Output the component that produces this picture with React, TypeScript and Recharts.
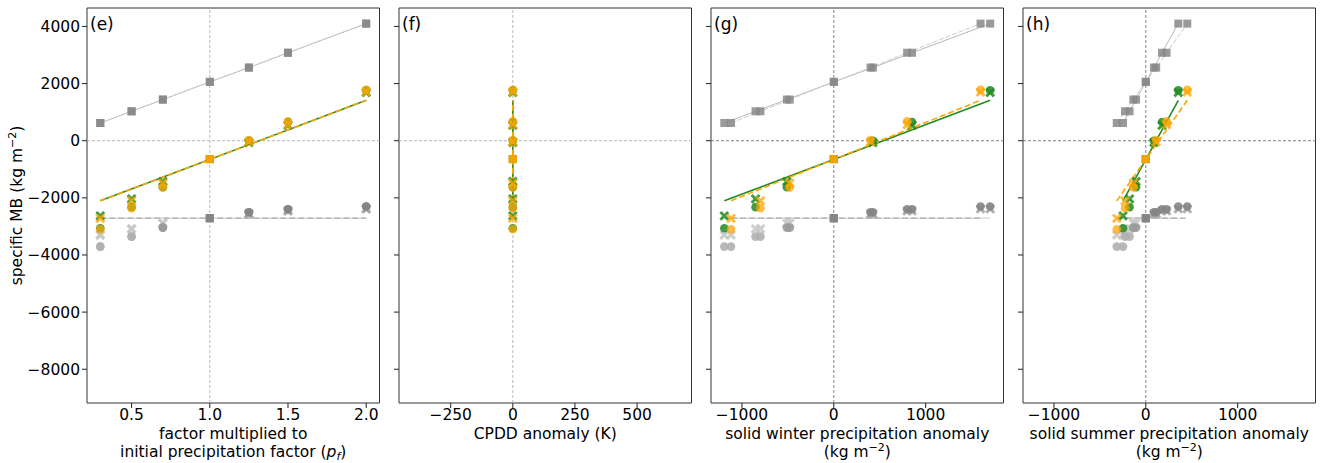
import React from 'react';
import { ComposedChart, Scatter, XAxis, YAxis, ReferenceLine, ReferenceArea } from 'recharts';

const FONT = '"DejaVu Sans", "Liberation Sans", sans-serif';

// ---- categories / x positions ----
const pfFactors = [0.3, 0.5, 0.7, 1.0, 1.25, 1.5, 2.0];
const cpddAnomaly = [0, 0, 0, 0, 0, 0, 0];
const winterAnomGreen = [-1192, -852, -511, 0, 426, 852, 1703];
const winterAnomOrange = [-1119, -799, -479, 0, 400, 799, 1598];
const summerAnomGreen = [-248, -177, -106, 0, 89, 177, 354];
const summerAnomOrange = [-316, -226, -136, 0, 113, 226, 452];

// ---- series values (specific MB, kg m-2) ----
const accumulation = [620, 1030, 1440, 2060, 2560, 3080, 4100];
const mbGreenCircle = [-3065, -2326, -1625, -643, 0, 656, 1765];
const mbOrangeCircle = [-3100, -2361, -1638, -643, 25, 677, 1780];
const mbGreenCross = [-2632, -2035, -1428, -643, -60, 540, 1690];
const mbOrangeCross = [-2720, -2105, -1487, -643, -40, 560, 1700];
const ablationCircle = [-3707, -3357, -3042, -2713, -2502, -2397, -2304];
const ablationCross = [-3298, -3088, -2887, -2713, -2561, -2456, -2386];
const ablationFit = [-2713, -2713];
const mbFit = [-2105, 1414];

// ---- ticks ----
const yTicks = [-8000, -6000, -4000, -2000, 0, 2000, 4000];
const eTicks = [0.5, 1.0, 1.5, 2.0];
const fTicks = [-250, 0, 250, 500];
const ghTicks = [-1000, 0, 1000];

const Y_DOMAIN: [number, number] = [-9182, 4646];
const REF_INDEX = 3;
const GREEN = '#228B22';
const ORANGE = '#FFA500';

type Pt = { x: number; y: number; i: number };
const zip = (xs: number[], ys: number[]): Pt[] => xs.map((x, i) => ({ x, y: ys[i], i }));
const ends = (xs: number[], ys: number[]): Pt[] => [
  { x: xs[0], y: ys[0], i: -1 },
  { x: xs[xs.length - 1], y: ys[ys.length - 1], i: -1 },
];

const minus = (v: number) => (v < 0 ? '\u2212' + Math.abs(v) : String(v));

const marker = (kind: string, color: string | ((i: number) => string), alpha: number) => (p: any) => {
  const { cx, cy, payload } = p;
  if (kind === 'none' || cx == null || cy == null || !isFinite(cx) || !isFinite(cy)) return <g />;
  const c = typeof color === 'function' ? color(payload.i) : color;
  const k = payload.i === REF_INDEX ? 'square' : kind;
  if (k === 'square')
    return <rect x={cx - 4} y={cy - 4} width={8} height={8} fill={c} fillOpacity={alpha} />;
  if (k === 'circle') return <circle cx={cx} cy={cy} r={4.3} fill={c} fillOpacity={alpha} />;
  const s = 3.9;
  return (
    <g opacity={alpha}>
      <line x1={cx - s} y1={cy - s} x2={cx + s} y2={cy + s} stroke={c} strokeWidth={3} />
      <line x1={cx - s} y1={cy + s} x2={cx + s} y2={cy - s} stroke={c} strokeWidth={3} />
    </g>
  );
};
const noMarker = marker('none', '#000', 1);

const ablCircleColor = (i: number) => (i < 3 ? (i === 2 ? '#9a9a9a' : '#b0b0b0') : '#858585');
const ablCrossColor = (i: number) => (i < 3 ? '#c8c8c8' : '#a8a8a8');

const tickStyle = { fontFamily: FONT, fontSize: 15.5, fill: '#000' };
const PLOT_W = 292.5;

const Sup = ({ children }: { children: React.ReactNode }) => (
  <>
    <tspan fontSize={11} dy={-6}>{children}</tspan>
    <tspan dy={6}>)</tspan>
  </>
);

type Cfg = {
  plotLeft: number;
  yW: number;
  xDomain: [number, number];
  xTicks: number[];
  fmt: (v: number) => string;
  greenX: number[];
  orangeX: number[];
  showGray: boolean;
  refX: number;
  refColor: string;
  letter: string;
  xlabel: React.ReactNode[];
  first: boolean;
};

function Panel({ cfg }: { cfg: Cfg }) {
  const { plotLeft, yW, xDomain, xTicks, fmt, greenX, orangeX, showGray, refX, refColor, letter, xlabel, first } = cfg;
  const width = yW + PLOT_W + 6;
  const cxText = yW + PLOT_W / 2;
  const labelFn = () => (
    <g fontFamily={FONT} fill="#000">
      <text x={yW + 3} y={30} fontSize={17}>{letter}</text>
      {xlabel.map((l, k) => (
        <text key={k} x={cxText} y={438.5 + k * 18.5} fontSize={15.5} textAnchor="middle">{l}</text>
      ))}
      {first && (
        <text x={22} y={205.5} fontSize={15.5} textAnchor="middle" transform="rotate(-90, 22, 205.5)">
          specific MB (kg m<Sup>{'\u2212'}2</Sup>
        </text>
      )}
    </g>
  );
  return (
    <div style={{ position: 'absolute', left: plotLeft - yW, top: 0 }}>
      <ComposedChart width={width} height={463} margin={{ top: 8, right: 6, bottom: 0, left: 0 }}>
        <XAxis
          type="number"
          dataKey="x"
          domain={xDomain}
          ticks={xTicks}
          interval={0}
          allowDataOverflow
          tickFormatter={fmt}
          tickSize={5}
          tickMargin={1}
          axisLine={false}
          tickLine={{ stroke: '#222' }}
          tick={tickStyle}
          height={60}
          label={labelFn}
        />
        <YAxis
          type="number"
          dataKey="y"
          domain={Y_DOMAIN}
          ticks={yTicks}
          interval={0}
          allowDataOverflow
          width={yW}
          tickSize={5}
          tickMargin={2}
          axisLine={false}
          tickLine={{ stroke: '#222' }}
          tickFormatter={first ? minus : () => ''}
          tick={tickStyle}
        />
        <ReferenceLine x={refX} stroke={refColor} strokeDasharray="3 2" strokeWidth={1} ifOverflow="visible" />
        <ReferenceLine y={0} stroke={refColor} strokeDasharray="3 2" strokeWidth={1} ifOverflow="visible" />

        {showGray && (
          <Scatter data={zip(greenX, accumulation)} line={{ stroke: '#b8b8b8', strokeWidth: 1 }} shape={noMarker} isAnimationActive={false} />
        )}
        {showGray && (
          <Scatter data={zip(orangeX, accumulation)} line={{ stroke: '#cdcdcd', strokeWidth: 1, strokeDasharray: '5 2' }} shape={noMarker} isAnimationActive={false} />
        )}
        {showGray && (
          <Scatter data={ends(greenX, ablationFit)} line={{ stroke: '#d6d6d6', strokeWidth: 1.2 }} shape={noMarker} isAnimationActive={false} />
        )}
        {showGray && (
          <Scatter data={ends(orangeX, ablationFit)} line={{ stroke: '#aaaaaa', strokeWidth: 1.2, strokeDasharray: '6 3' }} shape={noMarker} isAnimationActive={false} />
        )}
        {showGray && <Scatter data={zip(greenX, accumulation)} shape={marker('square', '#888888', 0.85)} isAnimationActive={false} />}
        {showGray && <Scatter data={zip(orangeX, accumulation)} shape={marker('square', '#888888', 0.85)} isAnimationActive={false} />}
        {showGray && <Scatter data={zip(greenX, ablationCross)} shape={marker('x', ablCrossColor, 0.9)} isAnimationActive={false} />}
        {showGray && <Scatter data={zip(orangeX, ablationCross)} shape={marker('x', ablCrossColor, 0.9)} isAnimationActive={false} />}
        {showGray && <Scatter data={zip(greenX, ablationCircle)} shape={marker('circle', ablCircleColor, 0.9)} isAnimationActive={false} />}
        {showGray && <Scatter data={zip(orangeX, ablationCircle)} shape={marker('circle', ablCircleColor, 0.9)} isAnimationActive={false} />}

        <Scatter data={ends(greenX, mbFit)} line={{ stroke: GREEN, strokeWidth: 1.6 }} shape={noMarker} isAnimationActive={false} />
        <Scatter data={ends(orangeX, mbFit)} line={{ stroke: ORANGE, strokeWidth: 1.6, strokeDasharray: '6 3' }} shape={noMarker} isAnimationActive={false} />

        <Scatter data={zip(greenX, mbGreenCross)} shape={marker('x', GREEN, 0.85)} isAnimationActive={false} />
        <Scatter data={zip(greenX, mbGreenCircle)} shape={marker('circle', GREEN, 0.85)} isAnimationActive={false} />
        <Scatter data={zip(orangeX, mbOrangeCross)} shape={marker('x', ORANGE, 0.75)} isAnimationActive={false} />
        <Scatter data={zip(orangeX, mbOrangeCircle)} shape={marker('circle', ORANGE, 0.75)} isAnimationActive={false} />

        <ReferenceArea
          x1={xDomain[0]}
          x2={xDomain[1]}
          y1={Y_DOMAIN[0]}
          y2={Y_DOMAIN[1]}
          fill="none"
          fillOpacity={0}
          stroke="#333"
          strokeWidth={1}
          ifOverflow="visible"
        />
      </ComposedChart>
    </div>
  );
}

const kgLabel = (
  <>
    (kg m<Sup>{'\u2212'}2</Sup>
  </>
);

const panels: Cfg[] = [
  {
    plotLeft: 87,
    yW: 87,
    xDomain: [0.215, 2.085],
    xTicks: eTicks,
    fmt: (v: number) => v.toFixed(1),
    greenX: pfFactors,
    orangeX: pfFactors,
    showGray: true,
    refX: 1.0,
    refColor: '#b8b8b8',
    letter: '(e)',
    xlabel: [
      'factor multiplied to',
      <>
        initial precipitation factor (<tspan fontStyle="italic">p</tspan>
        <tspan fontStyle="italic" fontSize={11} dy={3}>f</tspan>
        <tspan dy={-3}>)</tspan>
      </>,
    ],
    first: true,
  },
  {
    plotLeft: 399,
    yW: 12,
    xDomain: [-458, 719],
    xTicks: fTicks,
    fmt: minus,
    greenX: cpddAnomaly,
    orangeX: cpddAnomaly,
    showGray: false,
    refX: 0,
    refColor: '#b8b8b8',
    letter: '(f)',
    xlabel: ['CPDD anomaly (K)'],
    first: false,
  },
  {
    plotLeft: 711,
    yW: 12,
    xDomain: [-1337, 1848],
    xTicks: ghTicks,
    fmt: minus,
    greenX: winterAnomGreen,
    orangeX: winterAnomOrange,
    showGray: true,
    refX: 0,
    refColor: '#808080',
    letter: '(g)',
    xlabel: ['solid winter precipitation anomaly', kgLabel],
    first: false,
  },
  {
    plotLeft: 1023,
    yW: 12,
    xDomain: [-1337, 1848],
    xTicks: ghTicks,
    fmt: minus,
    greenX: summerAnomGreen,
    orangeX: summerAnomOrange,
    showGray: true,
    refX: 0,
    refColor: '#808080',
    letter: '(h)',
    xlabel: ['solid summer precipitation anomaly', kgLabel],
    first: false,
  },
];

export default function App() {
  return (
    <div style={{ position: 'absolute', left: 0, top: 0, width: 1325, height: 463, background: '#fff', overflow: 'hidden' }}>
      {panels.map((p, k) => (
        <Panel key={k} cfg={p} />
      ))}
    </div>
  );
}
